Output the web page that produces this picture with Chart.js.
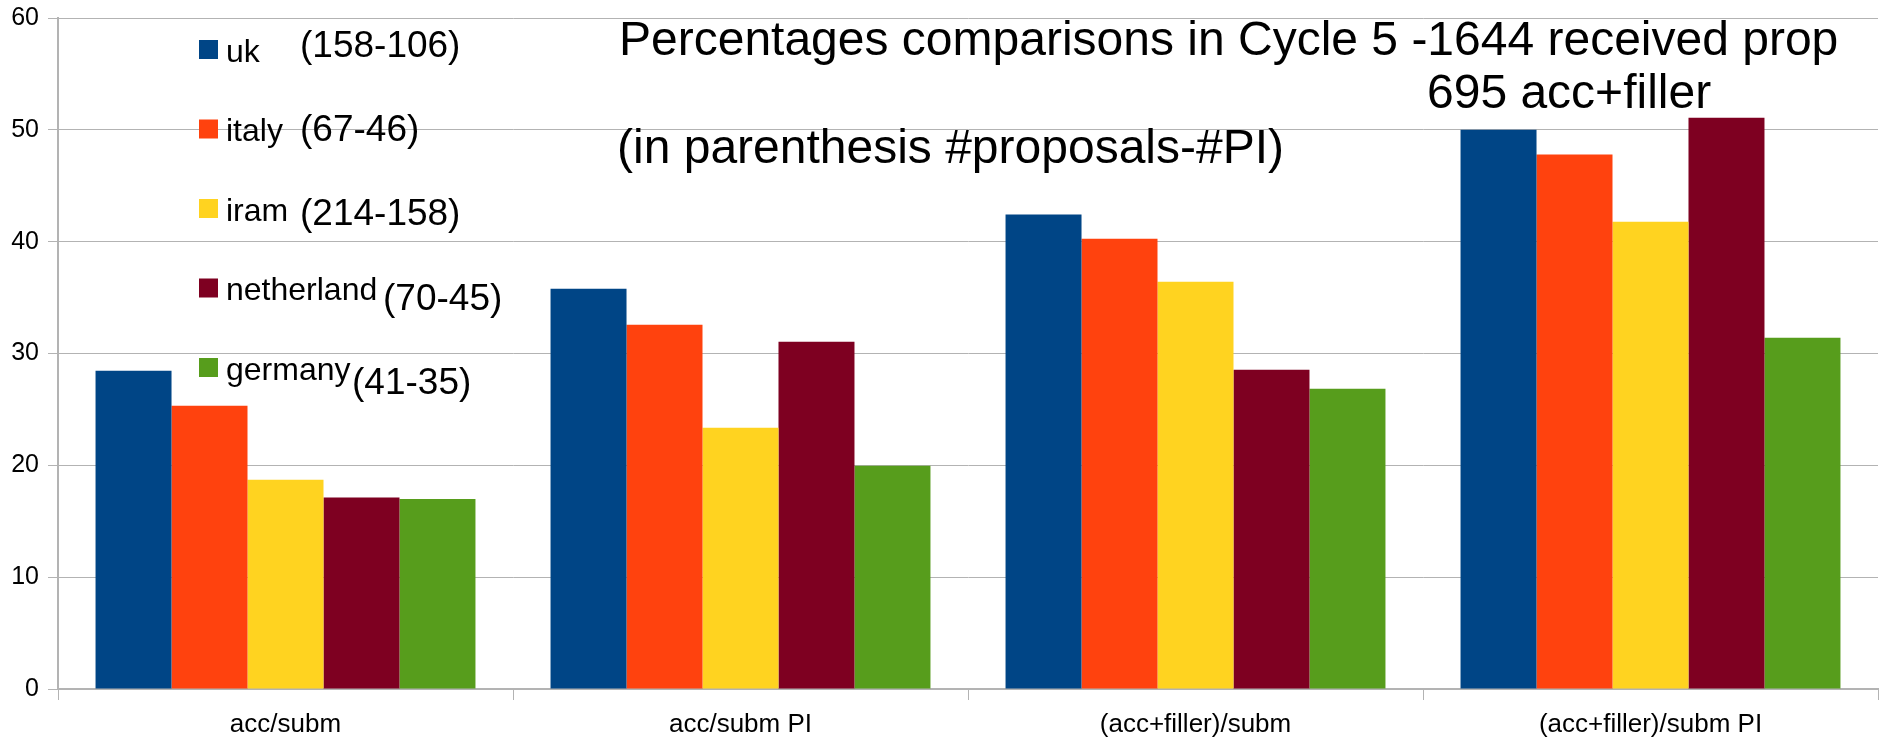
<!DOCTYPE html>
<html>
<head>
<meta charset="utf-8">
<script src="https://cdn.jsdelivr.net/npm/chart.js@4.4.1/dist/chart.umd.min.js"></script>
<style>
  html, body { margin: 0; padding: 0; background: #fff; }
  #wrap { width: 1885px; height: 738px; }
</style>
</head>
<body>
<div id="wrap"><canvas id="c"></canvas></div>
<script>
const categories = ['acc/subm', 'acc/subm PI', '(acc+filler)/subm', '(acc+filler)/subm PI'];
const countries = ['uk', 'italy', 'iram', 'netherland', 'germany'];
const counts = ['(158-106)', '(67-46)', '(214-158)', '(70-45)', '(41-35)'];

const ukVals = [28.46, 35.79, 42.42, 50.0];
const italyVals = [25.32, 32.57, 40.27, 47.79];
const iramVals = [18.70, 23.36, 36.42, 41.79];
const netherlandVals = [17.12, 31.05, 28.55, 51.09];
const germanyVals = [17.0, 19.96, 26.85, 31.41];

const yTicks = [0, 10, 20, 30, 40, 50, 60];
const titleLines = [
  'Percentages comparisons in Cycle 5 -1644 received prop',
  '695 acc+filler',
  '(in parenthesis #proposals-#PI)'
];

const colors = ['#004586', '#ff420e', '#ffd320', '#7e0021', '#579d1c'];
const series = [ukVals, italyVals, iramVals, netherlandVals, germanyVals];
const FONT = '"Liberation Sans", Arial, sans-serif';

// legend, counts and title are drawn on top of the plot
const overlay = {
  id: 'overlay',
  afterDraw(chart) {
    const ctx = chart.ctx;
    ctx.save();
    ctx.textAlign = 'left';
    ctx.textBaseline = 'alphabetic';
    const noteX = [300, 300, 300, 383, 352];
    chart.data.datasets.forEach((ds, i) => {
      const top = 40 + i * 79.5;
      ctx.fillStyle = ds.backgroundColor;
      ctx.fillRect(199, top, 19, 19);
      ctx.fillStyle = '#000';
      ctx.font = '32px ' + FONT;
      ctx.fillText(ds.label, 226, 62 + i * 79.4);
      ctx.font = '37px ' + FONT;
      ctx.fillText(counts[i], noteX[i], 57 + i * 84.2);
    });
    ctx.font = '48px ' + FONT;
    ctx.fillText(titleLines[0], 619, 55);
    ctx.fillText(titleLines[1], 1427, 108);
    ctx.fillText(titleLines[2], 617, 163);
    ctx.restore();
  }
};

new Chart(document.getElementById('c'), {
  type: 'bar',
  data: {
    labels: categories,
    datasets: countries.map((name, i) => ({
      label: name,
      data: series[i],
      backgroundColor: colors[i],
      borderWidth: 0,
      categoryPercentage: 0.835,
      barPercentage: 1.0
    }))
  },
  options: {
    responsive: true,
    maintainAspectRatio: false,
    animation: false,
    layout: { padding: { top: 18, right: 7, left: 0, bottom: 0 } },
    plugins: {
      legend: { display: false },
      tooltip: { enabled: false }
    },
    scales: {
      x: {
        grid: { offset: true, drawOnChartArea: false, drawTicks: true, tickLength: 11, color: '#b3b3b3' },
        border: { color: '#b3b3b3', width: 2 },
        ticks: { color: '#000', font: { family: FONT, size: 26 }, padding: 9, maxRotation: 0 },
        afterFit: (s) => { s.height = 49; }
      },
      y: {
        min: 0,
        max: 60,
        afterBuildTicks: (s) => { s.ticks = yTicks.map(v => ({ value: v })); },
        grid: { color: '#b3b3b3', tickLength: 10 },
        border: { color: '#b3b3b3', width: 2 },
        ticks: { color: '#000', font: { family: FONT, size: 25 }, padding: 9 },
        afterFit: (s) => { s.width = 58; s.paddingTop = 0; s.paddingBottom = 0; }
      }
    }
  },
  plugins: [overlay]
});
</script>
</body>
</html>
